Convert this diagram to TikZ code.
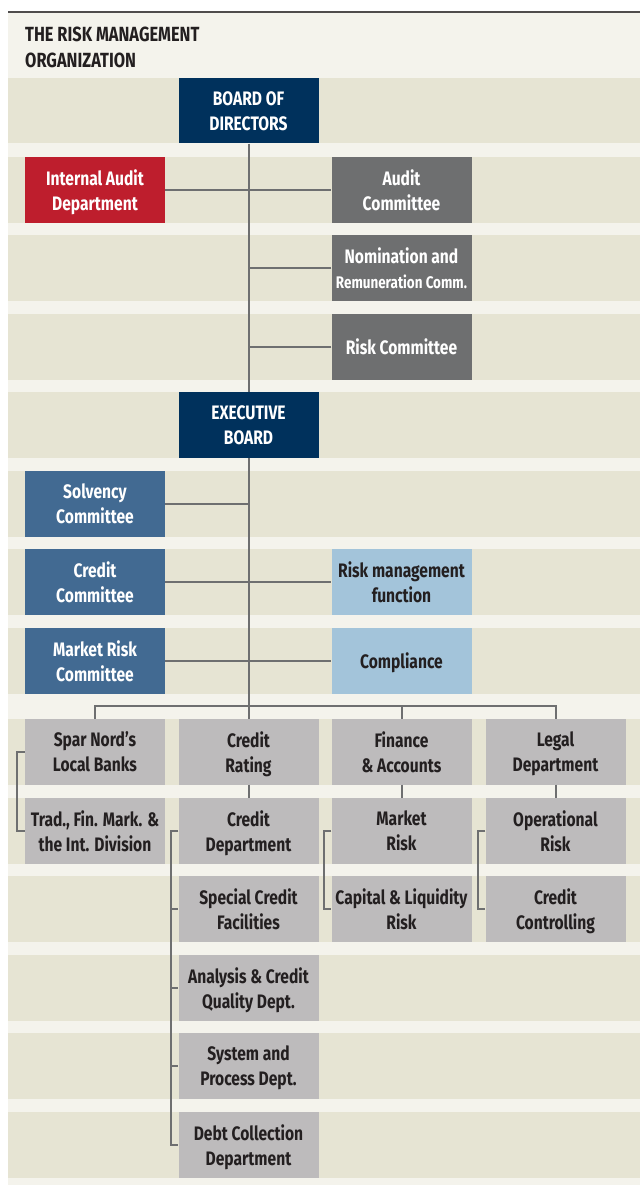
\documentclass[tikz,border=0pt]{standalone}
\usepackage{fontspec}
\setmainfont{Fira Sans}[FakeStretch=0.8]
\definecolor{bgc}{RGB}{244,243,236}
\definecolor{bandc}{RGB}{230,228,211}
\definecolor{navy}{RGB}{0,49,92}
\definecolor{redc}{RGB}{190,30,45}
\definecolor{dgray}{RGB}{110,111,112}
\definecolor{mblue}{RGB}{66,106,146}
\definecolor{lblue}{RGB}{163,196,218}
\definecolor{lgray}{RGB}{189,187,188}
\definecolor{txt}{RGB}{35,31,32}
\definecolor{linec}{RGB}{110,111,112}
\newcommand{\boxfont}{\fontsize{19.5}{25}\selectfont\bfseries}
\newcommand{\titlefont}{\fontsize{20.5}{26}\selectfont\bfseries}
\tikzset{
  box/.style={minimum width=140pt, minimum height=65.5pt, inner sep=0pt, align=center, font=\boxfont, text depth=0pt},
  navybox/.style={box, fill=navy, text=white},
  redbox/.style={box, fill=redc, text=white},
  dgbox/.style={box, fill=dgray, text=white},
  mbbox/.style={box, fill=mblue, text=white},
  lbbox/.style={box, fill=lblue, text=txt},
  lgbox/.style={box, fill=lgray, text=txt},
  conn/.style={draw=linec, line width=2pt},
}
\begin{document}
\begin{tikzpicture}[x=1pt,y=-1pt]
\useasboundingbox (0,0) rectangle (640,1185);
\fill[bgc] (8,12) rectangle (640,1185);
\draw[txt!80, line width=1.6pt] (8,12) -- (640,12);
\foreach \t in {78,157,235,314,392,471,549,628,719,798,876,955,1033,1112}
  \fill[bandc] (8,\t) rectangle (640,\t+65.5);
\node[anchor=north west, align=left, text=txt, font=\titlefont, inner sep=0pt] (title) at (25,27) {THE RISK MANAGEMENT\\ORGANIZATION};
\node[navybox] (bod) at (248.5,110.75) {BOARD OF\\DIRECTORS};
\node[redbox] (ia) at (95,189.75) {Internal Audit\\Department};
\node[dgbox] (ac) at (401.5,189.75) {Audit\\Committee};
\node[dgbox] (nom) at (401.5,267.75) {Nomination and\\{\fontsize{16.8}{21}\selectfont Remuneration Comm.}};
\node[dgbox] (rc) at (401.5,346.75) {Risk Committee};
\node[navybox] (exb) at (248.5,424.75) {EXECUTIVE\\BOARD};
\node[mbbox] (solv) at (95,503.75) {Solvency\\Committee};
\node[mbbox] (cc) at (95,581.75) {Credit\\Committee};
\node[lbbox] (rmf) at (401.5,581.75) {Risk management\\function};
\node[mbbox] (mrc) at (95,660.75) {Market Risk\\Committee};
\node[lbbox] (comp) at (401.5,660.75) {Compliance};
\node[lgbox] (spar) at (95,751.75) {Spar Nord’s\\Local Banks};
\node[lgbox] (crat) at (248.5,751.75) {Credit\\Rating};
\node[lgbox] (fa) at (401.5,751.75) {Finance\\\& Accounts};
\node[lgbox] (legal) at (555.5,751.75) {Legal\\Department};
\node[lgbox] (trad) at (95,830.75) {Trad., Fin. Mark. \&\\the Int. Division};
\node[lgbox] (cd) at (248.5,830.75) {Credit\\Department};
\node[lgbox] (mr) at (401.5,830.75) {Market\\Risk};
\node[lgbox] (opr) at (555.5,830.75) {Operational\\Risk};
\node[lgbox] (scf) at (248.5,908.75) {Special Credit\\Facilities};
\node[lgbox] (clr) at (401.5,908.75) {Capital \& Liquidity\\Risk};
\node[lgbox] (ctrl) at (555.5,908.75) {Credit\\Controlling};
\node[lgbox] (acq) at (248.5,987.75) {Analysis \& Credit\\Quality Dept.};
\node[lgbox] (spd) at (248.5,1065.75) {System and\\Process Dept.};
\node[lgbox] (dcd) at (248.5,1144.75) {Debt Collection\\Department};
\draw[conn] (bod.south) -- (exb.north);
\draw[conn] (ia.east) -- (ac.west);
\draw[conn] (nom.west) -- (nom.west -| bod.south);
\draw[conn] (rc.west) -- (rc.west -| bod.south);
\draw[conn] (exb.south) -- (crat.north);
\draw[conn] (solv.east) -- (solv.east -| exb.south);
\draw[conn] (cc.east) -- (rmf.west);
\draw[conn] (mrc.east) -- (comp.west);
\coordinate (bus) at (248.5,706);
\draw[conn] (spar.north) |- (bus) -| (legal.north);
\draw[conn] (fa.north) -- (fa.north |- bus);
\draw[conn] (spar.west) -- ++(-8,0) |- (trad.west);
\draw[conn] (crat.south) -- (cd.north);
\draw[conn] (fa.south) -- (mr.north);
\draw[conn] (legal.south) -- (opr.north);
\draw[conn] (cd.west) -- ++(-7,0) coordinate (cdb) |- (dcd.west);
\draw[conn] (cdb |- scf.west) -- (scf.west);
\draw[conn] (cdb |- acq.west) -- (acq.west);
\draw[conn] (cdb |- spd.west) -- (spd.west);
\draw[conn] (mr.west) -- ++(-7,0) |- (clr.west);
\draw[conn] (opr.west) -- ++(-7,0) |- (ctrl.west);
\end{tikzpicture}
\end{document}
